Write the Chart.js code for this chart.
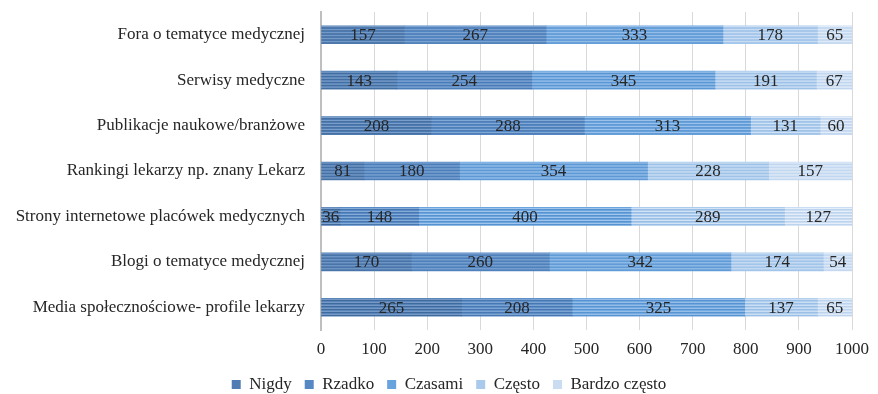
<!DOCTYPE html>
<html>
<head>
<meta charset="utf-8">
<script src="https://cdn.jsdelivr.net/npm/chart.js@4"></script>
<style>
  html, body { margin: 0; padding: 0; background: #fff; }
  #wrap { width: 878px; height: 394px; }
</style>
</head>
<body>
<div id="wrap"><canvas id="chart"></canvas></div>
<script>
const categories = [
  "Fora o tematyce medycznej",
  "Serwisy medyczne",
  "Publikacje naukowe/branżowe",
  "Rankingi lekarzy np. znany Lekarz",
  "Strony internetowe placówek medycznych",
  "Blogi o tematyce medycznej",
  "Media społecznościowe- profile lekarzy"
];
const seriesNames = ["Nigdy", "Rzadko", "Czasami", "Często", "Bardzo często"];
const nigdy = [157, 143, 208, 81, 36, 170, 265];
const rzadko = [267, 254, 288, 180, 148, 260, 208];
const czasami = [333, 345, 313, 354, 400, 342, 325];
const czesto = [178, 191, 131, 228, 289, 174, 137];
const bardzoCzesto = [65, 67, 60, 157, 127, 54, 65];
const xMax = 1000;
const xStep = 100;

// dark / base / light shades for the striped fill of each series
const shades = [
  ["#3d679a", "#4f7db3", "#7fa3cf"],
  ["#4576b0", "#5688c4", "#86acd8"],
  ["#5591d0", "#68a3dd", "#a2c6ec"],
  ["#98bde5", "#a9caec", "#d3e4f6"],
  ["#bcd3ee", "#c9dcf2", "#e6eff9"]
];
const barH = 18;
const serif = "'Liberation Serif'";

function striped(ctx, top, bottom, s) {
  const g = ctx.createLinearGradient(0, top, 0, bottom);
  const n = 6;
  for (let i = 0; i < n; i++) {
    g.addColorStop(i / n, s[1]);
    g.addColorStop((i + 0.35) / n, s[2]);
    g.addColorStop((i + 0.7) / n, s[0]);
  }
  g.addColorStop(1, s[1]);
  return g;
}

function fillFor(k) {
  return function(c) {
    const chart = c.chart;
    const y = chart.scales.y;
    if (c.type !== "data" || !y || !chart.chartArea) return shades[k][1];
    const cy = y.getPixelForValue(c.dataIndex);
    return striped(chart.ctx, cy - barH / 2, cy + barH / 2, shades[k]);
  };
}

// writes each segment's value in the middle of the segment
const valueLabels = {
  id: "valueLabels",
  afterDatasetsDraw(chart) {
    const ctx = chart.ctx;
    ctx.save();
    ctx.font = "17px " + serif;
    ctx.fillStyle = "#262626";
    ctx.textAlign = "center";
    ctx.textBaseline = "middle";
    chart.data.datasets.forEach((ds, i) => {
      chart.getDatasetMeta(i).data.forEach((bar, j) => {
        const p = bar.getProps(["x", "y", "base"], true);
        ctx.fillText(ds.data[j], (p.x + p.base) / 2, p.y + 1);
      });
    });
    ctx.restore();
  }
};

// nudge the legend row a bit to the right
const legendShift = {
  id: "legendShift",
  afterLayout(chart) {
    if (!chart.legend) return;
    chart.legend.left += 10;
    chart.legend.right += 10;
  }
};

const allSeries = [nigdy, rzadko, czasami, czesto, bardzoCzesto];

new Chart(document.getElementById("chart"), {
  type: "bar",
  data: {
    labels: categories,
    datasets: allSeries.map((vals, k) => ({
      label: seriesNames[k],
      data: vals,
      backgroundColor: fillFor(k),
      borderWidth: 0,
      barThickness: barH
    }))
  },
  options: {
    indexAxis: "y",
    responsive: true,
    maintainAspectRatio: false,
    animation: false,
    layout: { padding: { top: 12, right: 0, left: 0, bottom: -9 } },
    scales: {
      x: {
        stacked: true,
        min: 0,
        max: xMax,
        afterFit(scale) { scale.height = 33; },
        ticks: {
          stepSize: xStep,
          color: "#262626",
          padding: 9,
          font: { family: serif, size: 17 },
          callback: v => String(v)
        },
        grid: { color: "#d9d9d9", drawTicks: false },
        border: { display: false }
      },
      y: {
        stacked: true,
        afterFit(scale) {
          scale.width = 321;
          scale.paddingTop = 0;
          scale.paddingBottom = 0;
        },
        ticks: {
          color: "#262626",
          padding: 16,
          font: { family: serif, size: 17 }
        },
        grid: { display: false, drawTicks: false },
        border: { display: true, color: "#bfbfbf", width: 2 }
      }
    },
    plugins: {
      tooltip: { enabled: false },
      legend: {
        position: "bottom",
        labels: {
          boxWidth: 9,
          boxHeight: 9,
          padding: 13,
          color: "#262626",
          font: { family: serif, size: 17 },
          generateLabels: chart => chart.data.datasets.map((ds, i) => ({
            text: ds.label,
            fillStyle: shades[i][1],
            strokeStyle: shades[i][1],
            lineWidth: 0,
            fontColor: "#262626",
            datasetIndex: i,
            hidden: false
          }))
        }
      }
    }
  },
  plugins: [valueLabels, legendShift]
});
</script>
</body>
</html>
